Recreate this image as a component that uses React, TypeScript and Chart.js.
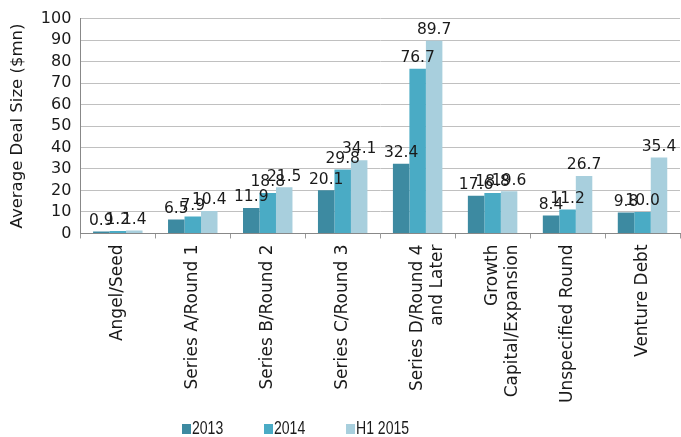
import React, { useEffect, useRef } from "react";
import { Chart, registerables } from "chart.js";

Chart.register(...registerables);

const categories: (string | string[])[] = [
  "Angel/Seed",
  "Series A/Round 1",
  "Series B/Round 2",
  "Series C/Round 3",
  ["Series D/Round 4", "and Later"],
  ["Growth", "Capital/Expansion"],
  "Unspecified Round",
  "Venture Debt",
];
const seriesNames = ["2013", "2014", "H1 2015"];
const values2013 = [0.9, 6.5, 11.9, 20.1, 32.4, 17.6, 8.4, 9.8];
const values2014 = [1.2, 7.9, 18.8, 29.8, 76.7, 18.8, 11.2, 10.0];
const valuesH12015 = [1.4, 10.4, 21.5, 34.1, 89.7, 19.6, 26.7, 35.4];
const colors = ["#3d8aa1", "#4aabc5", "#a8cfdd"];

const FONT = "'DejaVu Sans', sans-serif";

const labelPlugin = {
  id: "valueLabels",
  afterDatasetsDraw(chart: any) {
    const ctx = chart.ctx;
    ctx.save();
    ctx.font = `15.5px ${FONT}`;
    ctx.fillStyle = "#1a1a1a";
    ctx.textAlign = "center";
    ctx.textBaseline = "bottom";
    chart.data.datasets.forEach((ds: any, i: number) => {
      const meta = chart.getDatasetMeta(i);
      meta.data.forEach((bar: any, j: number) => {
        ctx.fillText(Number(ds.data[j]).toFixed(1), bar.x, bar.y - 3);
      });
    });
    ctx.restore();
  },
};

const legendPlugin = {
  id: "customLegend",
  afterDraw(chart: any) {
    const ctx = chart.ctx;
    ctx.save();
    ctx.font = `18px 'Liberation Sans', sans-serif`;
    ctx.textBaseline = "middle";
    ctx.textAlign = "left";
    const y = chart.height - 8;
    let x = 182;
    chart.data.datasets.forEach((ds: any) => {
      ctx.fillStyle = ds.backgroundColor;
      ctx.fillRect(x, y - 5, 9, 10);
      ctx.fillStyle = "#1a1a1a";
      ctx.save();
      ctx.translate(x + 10, y);
      ctx.scale(0.78, 1);
      ctx.fillText(ds.label, 0, 0);
      ctx.restore();
      x += 82;
    });
    ctx.restore();
  },
};

export default function App() {
  const ref = useRef<HTMLCanvasElement>(null);
  useEffect(() => {
    const seriesValues = [values2013, values2014, valuesH12015];
    const chart = new Chart(ref.current!, {
      type: "bar",
      data: {
        labels: categories,
        datasets: seriesNames.map((name, i) => ({
          label: name,
          data: seriesValues[i],
          backgroundColor: colors[i],
          categoryPercentage: 0.66,
          barPercentage: 1.0,
        })),
      },
      options: {
        animation: false,
        responsive: false,
        maintainAspectRatio: false,
        layout: { padding: { top: 8, right: 1, bottom: 28, left: 4 } },
        plugins: {
          legend: { display: false },
          tooltip: { enabled: false },
        },
        scales: {
          x: {
            grid: {
              drawOnChartArea: false,
              drawTicks: true,
              tickLength: 5,
              color: "#999999",
            },
            border: { color: "#888888" },
            ticks: {
              color: "#1a1a1a",
              font: { family: FONT, size: 17 },
              maxRotation: 90,
              minRotation: 90,
              autoSkip: false,
              padding: 6,
            },
          },
          y: {
            min: 0,
            max: 100,
            ticks: {
              stepSize: 10,
              autoSkip: false,
              color: "#1a1a1a",
              font: { family: FONT, size: 16 },
              padding: 9,
            },
            grid: { color: "#c0c0c0", drawTicks: false, lineWidth: 1 },
            border: { color: "#888888" },
            title: {
              display: true,
              text: "Average Deal Size ($mn)",
              color: "#1a1a1a",
              font: { family: FONT, size: 16.5 },
              padding: 4,
            },
          },
        },
      },
      plugins: [labelPlugin, legendPlugin],
    });
    return () => chart.destroy();
  }, []);
  return (
    <div style={{ position: "fixed", left: 0, top: 0, width: 681, height: 437, background: "#fff" }}>
      <canvas ref={ref} width={681} height={437} />
    </div>
  );
}
